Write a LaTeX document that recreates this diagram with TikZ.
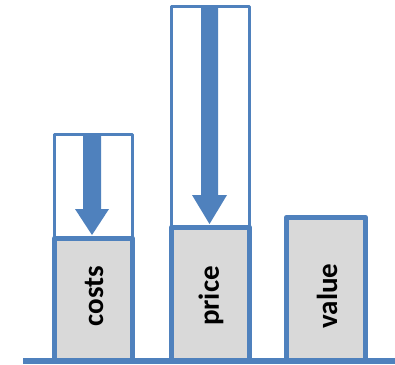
\documentclass[tikz,border=0pt]{standalone}
\usepackage{fontspec}
\setmainfont{Carlito}
\definecolor{barblue}{HTML}{4F81BD}
\definecolor{bargray}{HTML}{D9D9D9}
\begin{document}
\begin{tikzpicture}[x=1pt,y=-1pt,
  graybar/.style={draw=barblue,fill=bargray,line width=5.5pt,line join=round},
  whitebar/.style={draw=barblue,fill=white,line width=3.5pt,line join=round},
  bigarrow/.style={fill=barblue,draw=none},
  barlabel/.style={rotate=90,font=\fontsize{29}{31}\selectfont\bfseries,inner sep=0pt}]
\useasboundingbox (0,0) rectangle (395,364);
% white (upper) boxes
\draw[whitebar] (54.5,361) rectangle (132.5,134.5);
\draw[whitebar] (171.5,361) rectangle (249.5,6.5);
% gray boxes
\draw[graybar] (54.5,363) -- (54.5,238.5) -- (132.5,238.5) -- (132.5,363);
\fill[bargray] (57.5,241.5) rectangle (129.5,359);
\draw[graybar] (171.5,363) -- (171.5,227.5) -- (249.5,227.5) -- (249.5,363);
\fill[bargray] (174.5,230.5) rectangle (246.5,359);
\draw[graybar] (286.5,363) -- (286.5,217.5) -- (365.5,217.5) -- (365.5,363);
\fill[bargray] (289.5,220.5) rectangle (362.5,359);
% arrows
\fill[bigarrow] (83,136) -- (101,136) -- (101,209) -- (109,209) -- (92,235) -- (75,209) -- (83,209) -- cycle;
\fill[bigarrow] (201,8) -- (218,8) -- (218,195) -- (227,195) -- (209.5,224) -- (192,195) -- (201,195) -- cycle;
% baseline
\coordinate (bl) at (23,361);
\coordinate (br) at (395,361);
\draw[barblue,line width=5.5pt] (bl) -- (br);
% labels
\node[barlabel] (costs) at (94,296) {costs};
\node[barlabel] (price) at (211,296) {price};
\node[barlabel] (value) at (327,296) {value};
\end{tikzpicture}
\end{document}
